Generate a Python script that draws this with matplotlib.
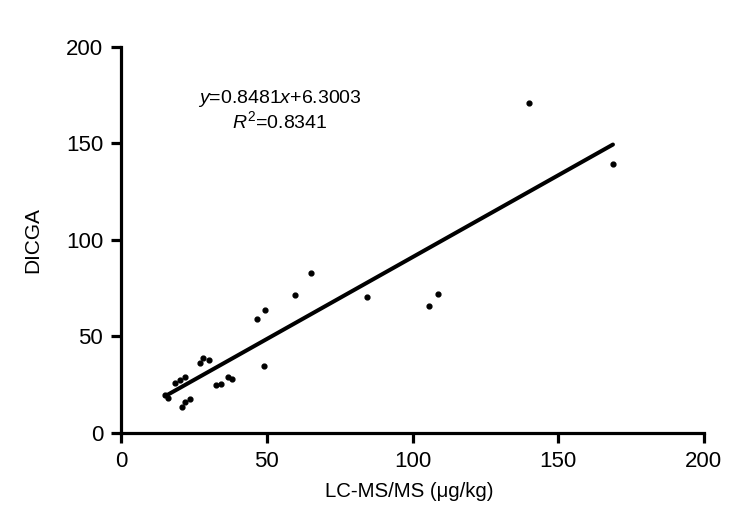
import numpy as np
import matplotlib.pyplot as plt

plt.rcParams['font.family'] = ['Liberation Sans', 'DejaVu Sans']
plt.rcParams['mathtext.fontset'] = 'custom'
plt.rcParams['mathtext.rm'] = 'Liberation Sans'
plt.rcParams['mathtext.it'] = 'Liberation Sans:italic'

# LC-MS/MS (ug/kg) vs DICGA readings
lcms = [15.1, 16.0, 18.5, 20.2, 22.0, 27.1, 28.1, 30.2, 20.9, 22.0, 23.7,
        32.6, 34.3, 36.7, 38.1, 49.1, 46.7, 49.4, 59.7, 65.2, 84.4,
        105.7, 108.7, 140.0, 168.8]
dicga = [19.7, 18.2, 25.9, 27.5, 29.0, 36.3, 38.9, 37.8, 13.5, 16.1, 17.6,
         24.9, 25.4, 29.0, 28.0, 34.7, 59.1, 63.7, 71.5, 82.9, 70.5,
         65.8, 72.0, 171.0, 139.4]
slope = 0.8481
intercept = 6.3003

fig = plt.figure(figsize=(7.44, 5.28), dpi=100)
ax = fig.add_axes([0.163, 0.180, 0.783, 0.731])

ax.scatter(lcms, dicga, s=12, color='black', zorder=3)
xl = np.array([min(lcms), max(lcms)])
ax.plot(xl, slope * xl + intercept, color='black', lw=2.9, solid_capstyle='round')

ax.text(54.5, 173.5, r'$y$=0.8481$x$+6.3003', ha='center', va='center', fontsize=14)
ax.text(54.5, 161.5, r'$R^2$=0.8341', ha='center', va='center', fontsize=14)

ax.set_xlim(0, 200)
ax.set_ylim(0, 200)
ax.set_xticks([0, 50, 100, 150, 200])
ax.set_yticks([0, 50, 100, 150, 200])
for s in ['top', 'right']:
    ax.spines[s].set_visible(False)
for s in ['left', 'bottom']:
    ax.spines[s].set_linewidth(2.3)
ax.tick_params(width=2.3, length=7, labelsize=16, direction='out', pad=6)
ax.set_xlabel('LC-MS/MS (μg/kg)', fontsize=14.7)
ax.set_ylabel('DICGA', fontsize=15)
ax.xaxis.set_label_coords(0.494, -0.128)
ax.yaxis.set_label_coords(-0.136, 0.5)

fig.savefig('out.png', dpi=100)
